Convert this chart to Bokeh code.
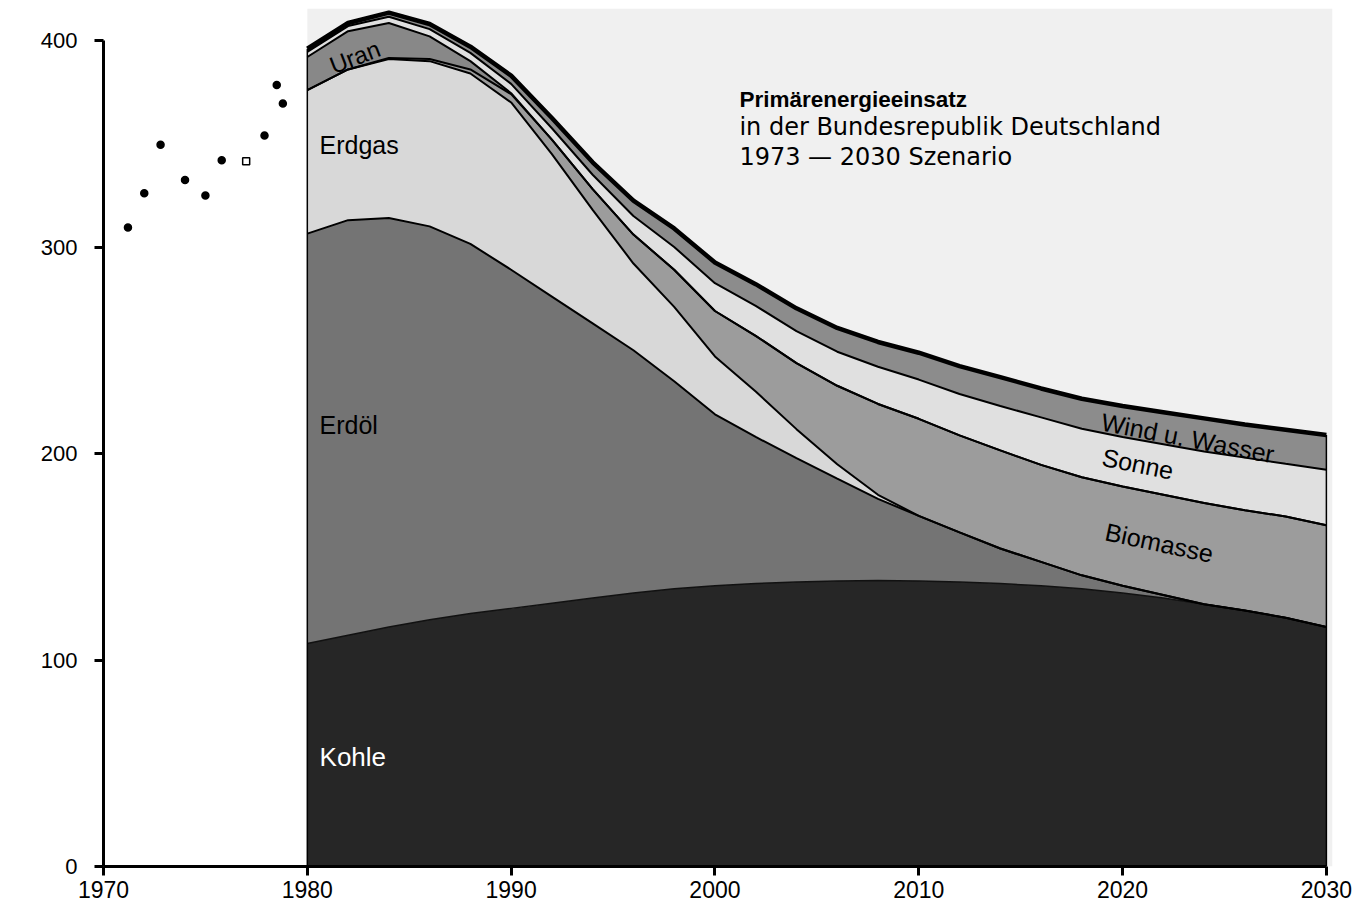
import numpy as np
from bokeh.plotting import figure
from bokeh.models import Range1d, Label, FixedTicker, BoxAnnotation, ColumnDataSource
from bokeh.embed import file_html
from bokeh.resources import INLINE

# ---------------- data (Mio tSKE) ----------------
YEARS = [1980, 1982, 1984, 1986, 1988, 1990, 1992, 1994, 1996, 1998, 2000, 2002, 2004,
         2006, 2008, 2010, 2012, 2014, 2016, 2018, 2020, 2022, 2024, 2026, 2028, 2030]
KOHLE = [108, 112, 116, 119.5, 122.5, 125, 127.5, 130, 132.5, 134.5, 136, 137, 137.8,
         138.3, 138.5, 138.3, 137.8, 137, 136, 134.5, 132.5, 130, 127, 124, 120.5, 116]
ERDOEL = [198.5, 201, 198, 190.5, 179, 164, 148.5, 133, 117.5, 100.5, 83, 71, 60,
          49.5, 39.5, 31.5, 24, 17, 11.5, 6.5, 3.5, 1.5, 0, 0, 0, 0]
ERDGAS = [69.5, 73, 77, 80, 82.5, 81, 69, 55, 42, 36, 28, 22, 14,
          7, 2, 0, 0, 0, 0, 0, 0, 0, 0, 0, 0, 0]
BIOMASSE = [0, 0, 0.5, 1, 2, 4, 7, 10, 14, 18, 22, 27, 32,
            38, 44, 47, 47, 47.5, 47, 47.5, 48, 48.5, 49, 48.5, 49, 49.3]
URAN = [16, 18.5, 17, 11, 4, 0.5, 0, 0, 0, 0, 0, 0, 0,
        0, 0, 0, 0, 0, 0, 0, 0, 0, 0, 0, 0, 0]
SONNE = [2.5, 2.5, 3, 3.5, 4, 4.5, 5.5, 7, 9, 11, 13.5, 14.5, 15.5,
         16.5, 18, 19, 20, 21.5, 23, 23.5, 24, 24.5, 25, 25.5, 25.5, 26.8]
WIND = [1.5, 1.5, 2, 2.5, 3, 4, 5, 6, 7.5, 9, 10, 10.5, 11,
        11.5, 12, 13, 13.5, 14, 14, 14.5, 15, 15.5, 16, 16, 16.5, 16.9]

LAYER_NAMES = ["Kohle", "Erdöl", "Erdgas", "Biomasse", "Uran", "Sonne", "Wind u. Wasser"]
LAYERS = [KOHLE, ERDOEL, ERDGAS, BIOMASSE, URAN, SONNE, WIND]
FILLS = ["#262626", "#747474", "#d8d8d8", "#9c9c9c", "#888888", "#e0e0e0", "#8c8c8c"]

# historical values 1970s
HIST_YEARS = [1971.2, 1972.0, 1972.8, 1974.0, 1975.0, 1975.8, 1977.0, 1977.9, 1978.5, 1978.8]
HIST_VALUES = [309.5, 326, 349.5, 332.5, 325, 342, 341.5, 354, 378.5, 369.5]
HIST_MARKERS = ["circle", "circle", "circle", "circle", "circle", "circle", "square",
                "circle", "circle", "circle"]
HIST_FILL = ["black", "black", "black", "black", "black", "black", "white",
             "black", "black", "black"]

X_TICKS = [1970, 1980, 1990, 2000, 2010, 2020, 2030]
Y_TICKS = [0, 100, 200, 300, 400]

TITLE_LINES = ["Primärenergieeinsatz", "in der Bundesrepublik Deutschland", "1973 — 2030 Szenario"]

FONT = "Liberation Sans"
WIDE = "DejaVu Sans"

# ---------------- figure ----------------
p = figure(width=1355, height=906, output_backend="svg", toolbar_location=None,
           x_range=Range1d(1970, 2030.3), y_range=Range1d(0, 415.5),
           min_border_left=103, min_border_right=23, min_border_top=8, min_border_bottom=40)
p.outline_line_color = None
p.xgrid.visible = False
p.ygrid.visible = False
p.background_fill_color = "white"
p.border_fill_color = "white"

# speckled background to the right of the first scenario year
p.add_layout(BoxAnnotation(left=YEARS[0], fill_color="#f0f0f0", fill_alpha=1.0,
                           line_color=None, level="underlay"))

years = np.array(YEARS, dtype=float)
cum = np.zeros(len(YEARS))
tops = []
for vals, fill in zip(LAYERS, FILLS):
    lo = cum.copy()
    cum = cum + np.array(vals, dtype=float)
    tops.append(cum.copy())
    p.varea(x=years, y1=lo, y2=cum, fill_color=fill)

# boundary lines
for i, t in enumerate(tops):
    if i == len(tops) - 1:
        p.line(years, t, line_color="black", line_width=4.5, line_join="round")
    elif i == 0:
        p.line(years, t, line_color="#111111", line_width=1.5)
    else:
        p.line(years, t, line_color="black", line_width=2)

total = tops[-1]
p.segment(x0=[years[0], years[-1]], y0=[0, 0], x1=[years[0], years[-1]],
          y1=[total[0], total[-1]], line_color="black", line_width=1.5)

# historical points
src = ColumnDataSource(dict(x=HIST_YEARS, y=HIST_VALUES, m=HIST_MARKERS, f=HIST_FILL))
p.scatter("x", "y", source=src, marker="m", size=7, fill_color="f",
          line_color="black", line_width=1.5)

# axes
for ax, ticks, bounds in ((p.xaxis, X_TICKS, (1970, 2030)), (p.yaxis, Y_TICKS, (0, 400))):
    ax.ticker = FixedTicker(ticks=ticks)
    ax.bounds = bounds
    ax.axis_line_width = 3
    ax.axis_line_color = "black"
    ax.major_tick_line_width = 3
    ax.major_tick_line_color = "black"
    ax.major_tick_in = 0
    ax.major_tick_out = 9
    ax.minor_tick_line_color = None
    ax.major_label_text_font = FONT
    ax.major_label_text_color = "black"
p.xaxis.major_label_text_font_size = "23px"
p.yaxis.major_label_text_font_size = "22px"
p.yaxis.major_label_standoff = 17
p.xaxis.major_label_standoff = 5

# area labels
def lab(x, y, text, align="left", angle=0.0, color="black", size="25px", style="normal", font=FONT):
    p.add_layout(Label(x=x, y=y, text=text, text_align=align, text_baseline="middle",
                       angle=angle, text_color=color, text_font=font,
                       text_font_size=size, text_font_style=style))

lab(1982.33, 392.0, "Uran", align="center", angle=0.37, size="24px")
lab(1980.6, 349.6, "Erdgas")
lab(1980.6, 213.8, "Erdöl")
lab(1980.6, 52.8, "Kohle", color="white", size="26px")
lab(2023.2, 207.5, "Wind u. Wasser", align="center", angle=-0.19)
lab(2020.75, 195.0, "Sonne", align="center", angle=-0.2)
lab(2021.8, 156.8, "Biomasse", align="center", angle=-0.21)

# unit label
lab(1968.3, 361.7, "Mio", align="right", size="24px")
lab(1968.3, 348.6, "tSKE", align="right", size="24px")

# title
lab(2001.2, 371.4, TITLE_LINES[0], size="22.5px", style="bold")
lab(2001.2, 358.3, TITLE_LINES[1], size="24px", font=WIDE)
lab(2001.2, 343.8, TITLE_LINES[2], size="24px", font=WIDE)

open("out.html", "w").write(file_html(p, INLINE))
